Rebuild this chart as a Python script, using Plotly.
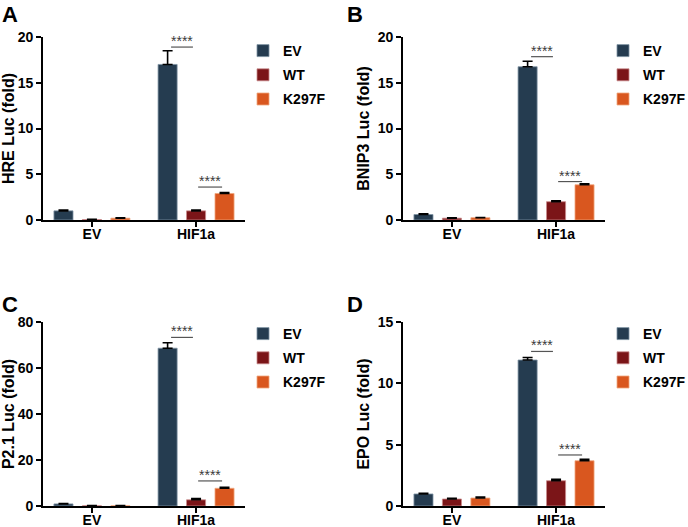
import plotly.graph_objects as go

# ---------------- data ----------------
categories = ["EV", "HIF1a"]
series = ["EV", "WT", "K297F"]
colors = ["#253c50", "#7b1518", "#d9571f"]
edge_colors = ["#7f93a3", "#c98a8c", "#f0a77f"]

# panel A: HRE Luc
a_EV = [1.0, 17.0]
a_EV_err = [0.08, 1.5]
a_WT = [0.05, 1.0]
a_WT_err = [0.02, 0.08]
a_K297F = [0.2, 2.9]
a_K297F_err = [0.05, 0.1]

# panel B: BNIP3 Luc
b_EV = [0.6, 16.75]
b_EV_err = [0.08, 0.6]
b_WT = [0.2, 2.0]
b_WT_err = [0.05, 0.1]
b_K297F = [0.25, 3.85]
b_K297F_err = [0.03, 0.1]

# panel C: P2.1 Luc
c_EV = [0.9, 68.6]
c_EV_err = [0.2, 2.4]
c_WT = [0.1, 2.7]
c_WT_err = [0.05, 0.5]
c_K297F = [0.1, 7.7]
c_K297F_err = [0.05, 0.4]

# panel D: EPO Luc
d_EV = [0.98, 11.9]
d_EV_err = [0.05, 0.2]
d_WT = [0.57, 2.06]
d_WT_err = [0.05, 0.12]
d_K297F = [0.65, 3.69]
d_K297F_err = [0.07, 0.12]

y_titles = ["HRE Luc (fold)", "BNIP3 Luc (fold)", "P2.1 Luc (fold)", "EPO Luc (fold)"]
y_ticks = [[0, 5, 10, 15, 20], [0, 5, 10, 15, 20], [0, 20, 40, 60, 80], [0, 5, 10, 15]]
panel_letters = ["A", "B", "C", "D"]
sig_label = "****"
# heights of the two significance lines (EV vs WT, WT vs K297F) in HIF1a group
sig1_y = [18.9, 17.85, 73.3, 12.6]
sig2_y = [3.6, 4.2, 10.9, 4.16]

panels = [
    (a_EV, a_EV_err, a_WT, a_WT_err, a_K297F, a_K297F_err),
    (b_EV, b_EV_err, b_WT, b_WT_err, b_K297F, b_K297F_err),
    (c_EV, c_EV_err, c_WT, c_WT_err, c_K297F, c_K297F_err),
    (d_EV, d_EV_err, d_WT, d_WT_err, d_K297F, d_K297F_err),
]

# ---------------- layout geometry (pixels) ----------------
W, H = 688, 527
px_boxes = [(43, 245, 37, 220), (403, 605, 37, 220), (43, 245, 322, 506), (403, 605, 322, 506)]
legend_pos = [(243, 35), (603, 35), (243, 318), (603, 318)]
letter_pos = [(0, 0), (345, 0), (0, 290), (345, 290)]

FONT = "Liberation Sans, Arial, sans-serif"

fig = go.Figure()
annotations = []
shapes = []

for i, data in enumerate(panels):
    xa = "x" if i == 0 else f"x{i+1}"
    ya = "y" if i == 0 else f"y{i+1}"
    leg = "legend" if i == 0 else f"legend{i+1}"
    vals = [data[0], data[2], data[4]]
    errs = [data[1], data[3], data[5]]
    for s in range(3):
        fig.add_trace(go.Bar(
            x=categories, y=vals[s], name=series[s],
            marker=dict(color=colors[s], line=dict(color=edge_colors[s], width=0.8)),
            error_y=dict(type="data", array=errs[s], arrayminus=[0] * len(errs[s]),
                         symmetric=False, color="black", thickness=1.6, width=5),
            xaxis=xa, yaxis=ya, legend=leg, legendgroup=f"{i}-{s}",
            showlegend=True,
        ))

    x0, x1, y0, y1 = px_boxes[i]
    xdom = [x0 / W, x1 / W]
    ydom = [1 - y1 / H, 1 - y0 / H]
    axis_common = dict(showline=True, linecolor="black", linewidth=1.6, ticks="outside",
                       ticklen=5, tickwidth=1.6, tickcolor="black", showgrid=False, zeroline=False,
                       automargin=False,
                       tickfont=dict(family=FONT, size=14, color="black", weight="bold"))
    xkey = "xaxis" if i == 0 else f"xaxis{i+1}"
    ykey = "yaxis" if i == 0 else f"yaxis{i+1}"
    fig.update_layout(**{
        xkey: dict(domain=xdom, anchor=ya, type="category", range=[-0.47, 1.47],
                   ticklabelstandoff=-5, **axis_common),
        ykey: dict(domain=ydom, anchor=xa, range=[0, y_ticks[i][-1]], tickvals=y_ticks[i],
                   title=dict(text=y_titles[i], standoff=4,
                              font=dict(family=FONT, size=16, color="black", weight="bold")),
                   **axis_common),
        leg: dict(x=legend_pos[i][0] / W, y=1 - legend_pos[i][1] / H, xanchor="left", yanchor="top",
                  font=dict(family=FONT, size=14, color="black", weight="bold"),
                  bgcolor="rgba(0,0,0,0)", tracegroupgap=3, traceorder="grouped"),
    })

    # significance markers in HIF1a group (category index 1)
    for (lo, hi, yy) in [(-0.24, -0.03, sig1_y[i]), (0.02, 0.25, sig2_y[i])]:
        shapes.append(dict(type="line", xref=xa, yref=ya, x0=1 + lo, x1=1 + hi, y0=yy, y1=yy,
                           line=dict(color="#555555", width=1.2)))
        annotations.append(dict(xref=xa, yref=ya, x=1 + (lo + hi) / 2, y=yy, text=sig_label,
                                showarrow=False, yanchor="bottom", yshift=-4,
                                font=dict(family=FONT, size=14, color="#3a3a3a")))

    lx, ly = letter_pos[i]
    annotations.append(dict(xref="paper", yref="paper", x=lx / W, y=1 - ly / H, xanchor="left",
                            yanchor="top", text=panel_letters[i], showarrow=False,
                            font=dict(family=FONT, size=22, color="black", weight="bold")))

fig.update_layout(
    width=W, height=H, margin=dict(l=0, r=0, t=0, b=0, pad=0, autoexpand=False),
    paper_bgcolor="white", plot_bgcolor="white",
    barmode="group", bargap=0.18, bargroupgap=0.33,
    annotations=annotations, shapes=shapes,
    font=dict(family=FONT, color="black"),
)

fig.write_html("out.html", config={"displayModeBar": False},
               post_script="document.body.style.margin='0px';")
